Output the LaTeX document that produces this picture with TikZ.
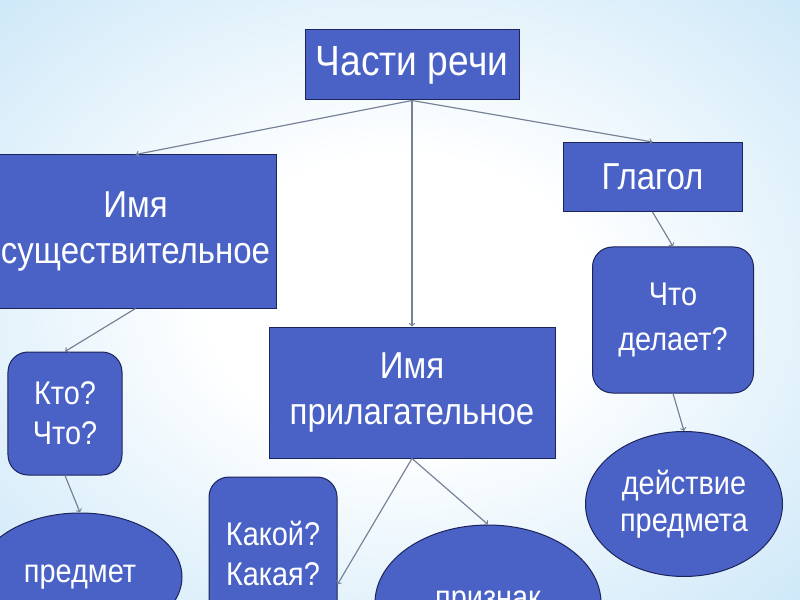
\documentclass[tikz,border=0pt]{standalone}
\usepackage{fontspec}
\setmainfont[FakeStretch=0.88]{Liberation Sans}
\usetikzlibrary{shapes.geometric}
\definecolor{boxblue}{RGB}{74,98,198}
\definecolor{edgeblue}{RGB}{28,36,92}
\definecolor{arrgray}{RGB}{118,128,150}
\definecolor{skyblue}{RGB}{150,206,240}
\pgfdeclareradialshading{sky}{\pgfpoint{0bp}{0bp}}{color(0bp)=(white); color(12bp)=(white); color(50bp)=(skyblue!75); color(72bp)=(skyblue)}
\begin{document}
\begin{tikzpicture}[x=0.3mm,y=-0.3mm, every node/.style={text=white,align=center,font=\fontsize{28}{38}\selectfont,fill=boxblue,draw=edgeblue,line width=0.3mm,inner sep=0pt}, box/.style={rectangle,font=\fontsize{32}{39}\selectfont}, rbox/.style={rectangle,rounded corners=6mm}, oval/.style={ellipse}, arr/.style={->,draw=arrgray,line width=0.35mm}]
\useasboundingbox (0,0) rectangle (800,600);
\clip (0,0) rectangle (800,600);
\shade[shading=sky] (0,0) rectangle (800,600);
\node[box,minimum width=64.2mm,minimum height=21mm,font=\fontsize{36}{38}\selectfont] (parts) at (412,65) {Части речи};
\node[box,minimum width=84.3mm,minimum height=45.9mm] (noun) at (135.5,231.5) {Имя\\существительное};
\node[box,minimum width=53.7mm,minimum height=20.7mm] (verb) at (652.5,177) {Глагол};
\node[rbox,minimum width=48.3mm,minimum height=43.8mm] (does) at (673,320) {Что\\делает?};
\node[rbox,minimum width=34.2mm,minimum height=36.9mm,font=\fontsize{28}{34}\selectfont] (who) at (65,413.5) {Кто?\\Что?};
\node[box,minimum width=85.8mm,minimum height=39.3mm] (adj) at (412,392.5) {Имя\\прилагательное};
\node[rbox,minimum width=38.4mm,minimum height=57.6mm,font=\fontsize{28}{34}\selectfont] (which) at (273,573) {Какой?\\Какая?\\Какое?};
\node[oval,minimum width=59.1mm,minimum height=43.5mm,font=\fontsize{28}{32}\selectfont] (act) at (684,504) {действие\\предмета};
\node[oval,minimum width=61.2mm,minimum height=38.4mm] (subj) at (80,577) {предмет};
\node[oval,minimum width=67.8mm,minimum height=46.8mm] (sign) at (488,603) {признак};
\draw[arr] (parts.south) -- (noun.north);
\draw[arr] (parts.south) -- (adj.north);
\draw[arr] (parts.south) -- (verb.north);
\draw[arr] (noun.south) -- (who.north);
\draw[arr] (who.south) -- (subj.north);
\draw[arr] (verb.south) -- (does.north);
\draw[arr] (does.south) -- (act.north);
\draw[arr] (adj.south) -- (which.-10);
\draw[arr] (adj.south) -- (sign.north);
\end{tikzpicture}
\end{document}
